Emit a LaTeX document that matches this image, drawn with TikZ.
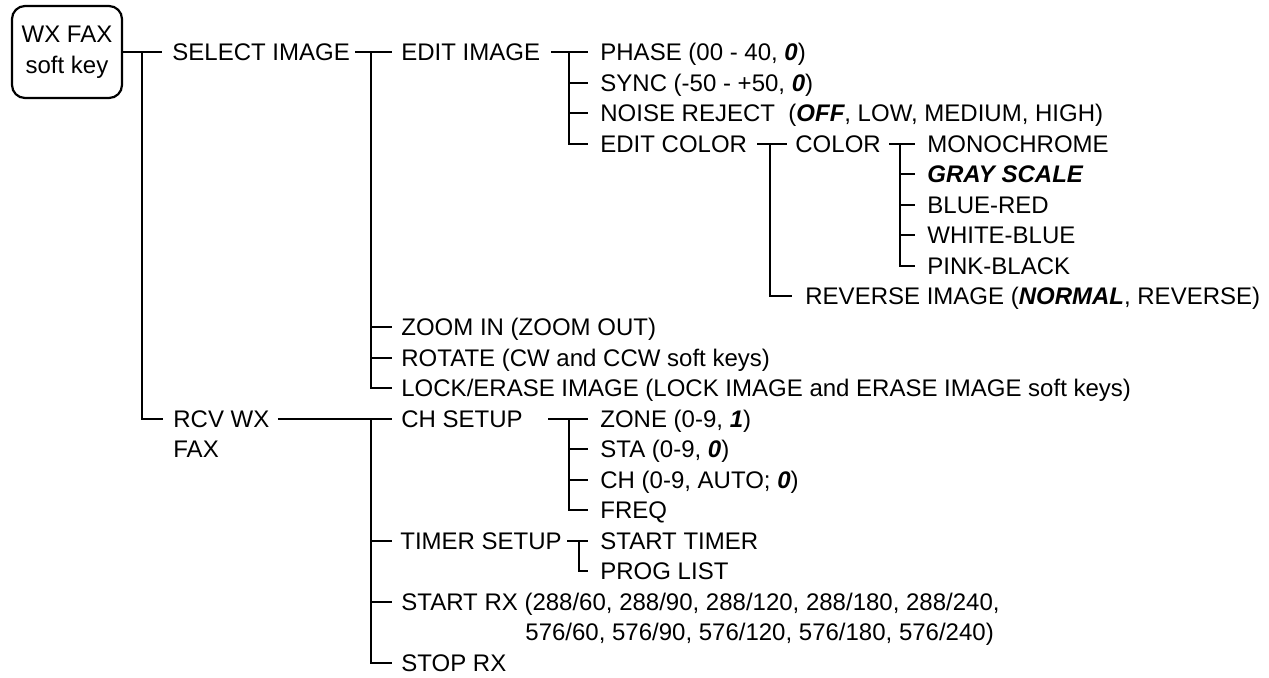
\documentclass[tikz,border=0pt]{standalone}
\usepackage{fontspec}
\setmainfont{Liberation Sans}
\newcommand{\BI}[1]{{\bfseries\itshape #1}}
\begin{document}
\begin{tikzpicture}[x=0.5pt,y=-0.5pt,
  lbl/.style={anchor=west,inner sep=0pt,text height=8.6pt,text depth=0pt,font=\fontsize{12}{15}\selectfont},
  ln/.style={line width=1.3pt},
  keybox/.style={draw,line width=1.1pt,rounded corners=6.5pt,minimum width=55pt,minimum height=46pt,align=center,inner sep=0pt,font=\fontsize{12}{15.5}\selectfont}]
\useasboundingbox (0,0) rectangle (1269,677);
\node[keybox] (wx) at (67,52) {WX FAX\\soft key};
% level 1
\node[lbl] (sel) at (172,52) {SELECT IMAGE};
\node[lbl] (rcv) at (173,419) {RCV WX};
\node[lbl] (fax) at (173,449) {FAX};
% level 2
\node[lbl] (edit) at (401,52) {EDIT IMAGE};
\node[lbl] (zoomin) at (401,327) {ZOOM IN (ZOOM OUT)};
\node[lbl] (rot) at (401,358) {ROTATE (CW and CCW soft keys)};
\node[lbl] (lock) at (401,388) {LOCK/ERASE IMAGE (LOCK IMAGE and ERASE IMAGE soft keys)};
\node[lbl] (ch) at (401,419) {CH SETUP};
\node[lbl] (timer) at (400,541) {TIMER SETUP};
\node[lbl] (srx) at (401,602) {START RX (288/60, 288/90, 288/120, 288/180, 288/240,};
\node[lbl] (srxb) at (525,632) {576/60, 576/90, 576/120, 576/180, 576/240)};
\node[lbl] (stop) at (401,663) {STOP RX};
% level 3
\node[lbl] (phase) at (600,52) {PHASE (00 - 40, \BI{0})};
\node[lbl] (sync) at (600,83) {SYNC (-50 - +50, \BI{0})};
\node[lbl] (noise) at (600,113) {NOISE REJECT\ \ (\BI{OFF}, LOW, MEDIUM, HIGH)};
\node[lbl] (editc) at (600,144) {EDIT COLOR};
\node[lbl] (zone) at (600,419) {ZONE (0-9, \BI{1})};
\node[lbl] (sta) at (600,449) {STA (0-9, \BI{0})};
\node[lbl] (chh) at (600,480) {CH (0-9, AUTO; \BI{0})};
\node[lbl] (freq) at (600,510) {FREQ};
\node[lbl] (stt) at (600,541) {START TIMER};
\node[lbl] (prog) at (600,571) {PROG LIST};
% level 4
\node[lbl] (color) at (795,144) {COLOR};
\node[lbl] (rev) at (805,296) {REVERSE IMAGE (\BI{NORMAL}, REVERSE)};
% level 5
\node[lbl] (mono) at (927,144) {MONOCHROME};
\node[lbl] (gray) at (927,174) {\BI{GRAY SCALE}};
\node[lbl] (br) at (927,205) {BLUE-RED};
\node[lbl] (wb) at (927,235) {WHITE-BLUE};
\node[lbl] (pb) at (927,266) {PINK-BLACK};
% junctions
\coordinate (j1) at (142,52);
\coordinate (j2) at (371,52);
\coordinate (j3) at (371,419);
\coordinate (j4) at (569,52);
\coordinate (j5) at (770,144);
\coordinate (j6) at (900,144);
\coordinate (j7) at (569,419);
\coordinate (j8) at (579,541);
% connectors
\draw[ln] (wx.east) -- ([xshift=-5pt]sel.west);
\draw[ln] (j1) |- ([xshift=-5pt]rcv.west);
\draw[ln] ([xshift=2.5pt]sel.east) -- ([xshift=-4.5pt]edit.west);
\draw[ln] (j2) |- ([xshift=-4.5pt]lock.west);
\draw[ln] (j2 |- zoomin.west) -- ([xshift=-4.5pt]zoomin.west);
\draw[ln] (j2 |- rot.west) -- ([xshift=-4.5pt]rot.west);
\draw[ln] ([xshift=4pt]rcv.east) -- ([xshift=-4.5pt]ch.west);
\draw[ln] (j3) |- ([xshift=-4.5pt]stop.west);
\draw[ln] (j3 |- timer.west) -- ([xshift=-4pt]timer.west);
\draw[ln] (j3 |- srx.west) -- ([xshift=-4.5pt]srx.west);
\draw[ln] ([xshift=5.5pt]edit.east) -- ([xshift=-6pt]phase.west);
\draw[ln] (j4) |- ([xshift=-6pt]editc.west);
\draw[ln] (j4 |- sync.west) -- ([xshift=-6pt]sync.west);
\draw[ln] (j4 |- noise.west) -- ([xshift=-6pt]noise.west);
\draw[ln] ([xshift=5pt]editc.east) -- ([xshift=-4pt]color.west);
\draw[ln] (j5) |- ([xshift=-6.5pt]rev.west);
\draw[ln] ([xshift=4pt]color.east) -- ([xshift=-6pt]mono.west);
\draw[ln] (j6) |- ([xshift=-6pt]pb.west);
\draw[ln] (j6 |- gray.west) -- ([xshift=-6pt]gray.west);
\draw[ln] (j6 |- br.west) -- ([xshift=-6pt]br.west);
\draw[ln] (j6 |- wb.west) -- ([xshift=-6pt]wb.west);
\draw[ln] ([xshift=-26pt]zone.west) -- ([xshift=-6pt]zone.west);
\draw[ln] (j7) |- ([xshift=-6pt]freq.west);
\draw[ln] (j7 |- sta.west) -- ([xshift=-6pt]sta.west);
\draw[ln] (j7 |- chh.west) -- ([xshift=-6pt]chh.west);
\draw[ln] ([xshift=2.5pt]timer.east) -- ([xshift=-6pt]stt.west);
\draw[ln] (j8) |- ([xshift=-6pt]prog.west);
\end{tikzpicture}
\end{document}
